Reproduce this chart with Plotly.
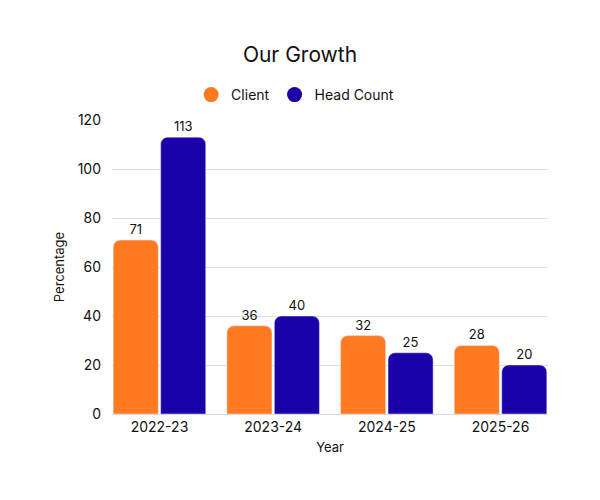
import plotly.graph_objects as go

years = ["2022-23", "2023-24", "2024-25", "2025-26"]
client = [71, 36, 32, 28]
head_count = [113, 40, 25, 20]

FONT = "Inter, Lato, sans-serif"
C_CLIENT = "#FF7A21"
C_HEAD = "#1A00A8"

fig = go.Figure()
fig.add_trace(go.Bar(name="Client", x=years, y=client, marker_color=C_CLIENT,
                     text=client, textposition="outside", cliponaxis=False,
                     textfont=dict(size=13, color="#111111"), showlegend=False))
fig.add_trace(go.Bar(name="Head Count", x=years, y=head_count, marker_color=C_HEAD,
                     text=head_count, textposition="outside", cliponaxis=False,
                     textfont=dict(size=13, color="#111111"), showlegend=False))
# legend entries with circle symbols
fig.add_trace(go.Scatter(name="Client", x=[years[0]], y=[None], mode="markers",
                         marker=dict(symbol="circle", size=15, color=C_CLIENT)))
fig.add_trace(go.Scatter(name="Head Count", x=[years[0]], y=[None], mode="markers",
                         marker=dict(symbol="circle", size=15, color=C_HEAD)))

n = len(years)
bargap = 0.165
fig.update_layout(
    width=600, height=500,
    margin=dict(l=112, r=52, t=120, b=86, autoexpand=False),
    paper_bgcolor="white", plot_bgcolor="white",
    font=dict(family=FONT, size=13, color="#111111"),
    title=dict(text="Our Growth", x=0.5, xanchor="center", y=0.89, yanchor="middle",
               font=dict(size=21, color="#111111", family=FONT)),
    legend=dict(orientation="h", x=0.42, xanchor="center",
                y=1.085, yanchor="middle", font=dict(size=14),
                itemwidth=30),
    barmode="group", bargap=bargap, bargroupgap=0.05, barcornerradius=7,
)
fig.update_xaxes(title=dict(text="Year", standoff=9, font=dict(size=13)),
                 range=[-0.5 + bargap / 2, n - 0.5 - bargap / 2],
                 showgrid=False, showline=True, linecolor="#d9d9d9", linewidth=1,
                 ticks="", tickfont=dict(size=14), tickangle=0)
fig.update_yaxes(title=dict(text="Percentage", standoff=10, font=dict(size=13)),
                 range=[0, 120], dtick=20, showgrid=True, gridcolor="#e0e0e0",
                 zeroline=False, ticks="", tickfont=dict(size=14), ticklabelstandoff=10)

fig.write_html("out.html")
